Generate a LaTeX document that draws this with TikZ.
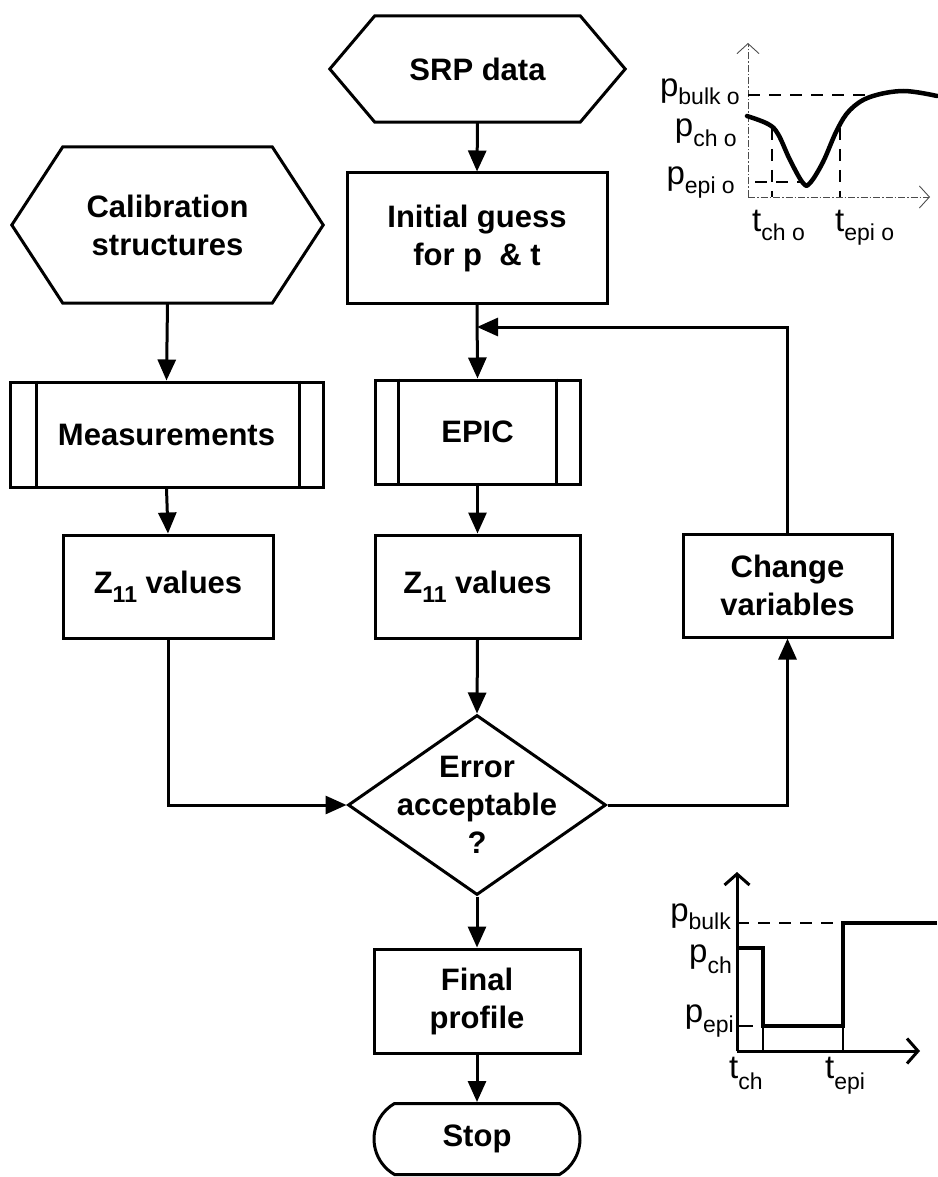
\documentclass[tikz,border=0pt]{standalone}
\usepackage{fontspec}
\setmainfont{Liberation Sans}
\usetikzlibrary{arrows.meta,shapes.geometric,shapes.misc,calc}
% symbol with a lowered, smaller subscript
\newcommand\withsub[3]{#1\raisebox{#3}{\fontsize{23}{23}\selectfont #2}}
\newcommand\zsub{Z\raisebox{-9pt}{\fontsize{23}{23}\selectfont 11}}
\begin{document}
\begin{tikzpicture}[x=1pt,y=-1pt,
  box/.style={draw, line width=3pt, fill=white, align=center, inner sep=0pt,
    font=\bfseries\fontsize{31}{38}\selectfont},
  plain/.style={align=center, inner sep=0pt, font=\bfseries\fontsize{31}{38}\selectfont},
  conn/.style={line width=3pt, -{Triangle[length=21pt,width=18pt]}},
  edge/.style={line width=3pt, line join=miter},
  thinax/.style={line width=0.9pt, black!70, dash pattern=on 7pt off 2pt on 1.5pt off 2pt,
    -{Straight Barb[length=10pt,width=22pt]}},
  thickax/.style={line width=3pt, -{Straight Barb[length=11pt,width=25pt]}},
  guide/.style={line width=2.8pt, dash pattern=on 12pt off 9pt},
  curve/.style={line width=4.5pt, line cap=round, line join=round},
  stepline/.style={line width=3.8pt, line join=miter},
  tick/.style={line width=1.6pt},
  lab/.style={inner sep=0pt, font=\fontsize{33}{33}\selectfont}
]
\useasboundingbox (0,0) rectangle (937,1177);

% ---- input hexagons
\node[plain, minimum width=209pt, minimum height=156pt] (cal) at (167.5,225) {Calibration\\structures};
\draw[edge] (cal.north west) -- (cal.north east) -- ([xshift=51pt]cal.east) -- (cal.south east)
  -- (cal.south west) -- ([xshift=-51pt]cal.west) -- cycle;

\node[plain, minimum width=205pt, minimum height=106pt] (srp) at (477.5,69) {SRP data};
\draw[edge] (srp.north west) -- (srp.north east) -- ([xshift=45pt]srp.east) -- (srp.south east)
  -- (srp.south west) -- ([xshift=-45pt]srp.west) -- cycle;

% ---- process boxes
\node[box, minimum width=260pt, minimum height=130pt] (init) at (477,238) {Initial guess\\for p\ \ \& t};

\node[box, minimum width=313pt, minimum height=105pt] (meas) at (166.5,434.5) {Measurements};
\draw[edge] ([xshift=28pt]meas.north west) -- ([xshift=28pt]meas.south west);
\draw[edge] ([xshift=-25pt]meas.north east) -- ([xshift=-25pt]meas.south east);

\node[box, minimum width=205pt, minimum height=104pt] (epic) at (477.5,432) {EPIC};
\draw[edge] ([xshift=25pt]epic.north west) -- ([xshift=25pt]epic.south west);
\draw[edge] ([xshift=-25pt]epic.north east) -- ([xshift=-25pt]epic.south east);

\node[box, minimum width=210pt, minimum height=103pt] (z1) at (168,586.5) {\zsub\ values};
\node[box, minimum width=205pt, minimum height=103pt] (z2) at (477.5,586.5) {\zsub\ values};
\node[box, minimum width=209pt, minimum height=103pt] (chg) at (787.5,585.5) {Change\\variables};

\node[diamond, draw, line width=3pt, fill=white, minimum width=258pt, minimum height=180pt,
  inner sep=0pt] (dec) at (477,805) {};
\node[plain] (dectxt) at (dec.center) {Error\\acceptable\\?};

\node[box, minimum width=206pt, minimum height=104pt] (final) at (477,1001) {Final\\profile};
\node[box, rounded rectangle, rounded rectangle arc length=120, minimum width=206pt,
  minimum height=71pt] (stop) at (477,1139) {Stop};

% ---- connectors
\coordinate (fbref) at (0,327);
\coordinate (fbj) at (init.south |- fbref);
\draw[conn] (srp.south) -- (init.north);
\draw[conn] (init.south) -- (epic.north);
\draw[conn] (epic.south) -- (z2.north);
\draw[conn] (z2.south) -- (dec.north);
\draw[conn] (dec.south) -- (final.north);
\draw[conn] (final.south) -- (stop.north);
\draw[conn] (cal.south) -- (meas.north);
\draw[conn] (meas.south) -- (z1.north);
\draw[conn] (z1.south) |- (dec.west);
\draw[conn] (dec.east) -| (chg.south);
\draw[conn] (chg.north) |- (fbj);

% ---- initial profile sketch (top right)
\coordinate (o1) at (748,197);
\draw[thinax] (o1) -- (748,43);
\draw[thinax] (o1) -- (930,197);
\draw[guide] (748,95) -- (870,95);
\draw[guide] (772,128) -- (772,197);
\draw[guide] (840,128) -- (840,197);
\draw[guide] (755,182) -- (803,182);
\draw[curve] plot[smooth, tension=0.6] coordinates {(747,116) (768,124) (778,134) (790,160)
  (803,183) (810,183) (823,162) (837,130) (850,110) (870,97) (903,91) (937,96)};
\node[lab, anchor=base east] (pbulk0) at (740,97) {p\withsub{}{bulk o}{-8pt}};
\node[lab, anchor=base east] (pch0) at (737,137) {p\withsub{}{ch o}{-10pt}};
\node[lab, anchor=base east] (pepi0) at (735,185) {p\withsub{}{epi o}{-9pt}};
\node[lab, anchor=base west] (tch0) at (752,231) {t\withsub{}{ch o}{-9pt}};
\node[lab, anchor=base west] (tepi0) at (835,231) {t\withsub{}{epi o}{-9pt}};

% ---- final step profile (bottom right)
\coordinate (o2) at (737,1051);
\draw[thickax] (o2) -- (737,872);
\draw[thickax] (o2) -- (920,1051);
\draw[guide] (737,923) -- (843,923);
\draw[stepline] (737,948) -- (763,948) -- (763,1026) -- (843,1026) -- (843,923) -- (937,923);
\draw[tick] (763,1026) -- (763,1051) (843,1026) -- (843,1051) (737,1026) -- (753,1026);
\node[lab, anchor=base east] (pbulk) at (731,921) {p\withsub{}{bulk}{-8pt}};
\node[lab, anchor=base east] (pch) at (732,962) {p\withsub{}{ch}{-11pt}};
\node[lab, anchor=base east] (pepi) at (734,1022) {p\withsub{}{epi}{-10pt}};
\node[lab, anchor=base west] (tch) at (729,1078) {t\withsub{}{ch}{-11pt}};
\node[lab, anchor=base west] (tepi) at (825,1078) {t\withsub{}{epi}{-11pt}};
\end{tikzpicture}
\end{document}
